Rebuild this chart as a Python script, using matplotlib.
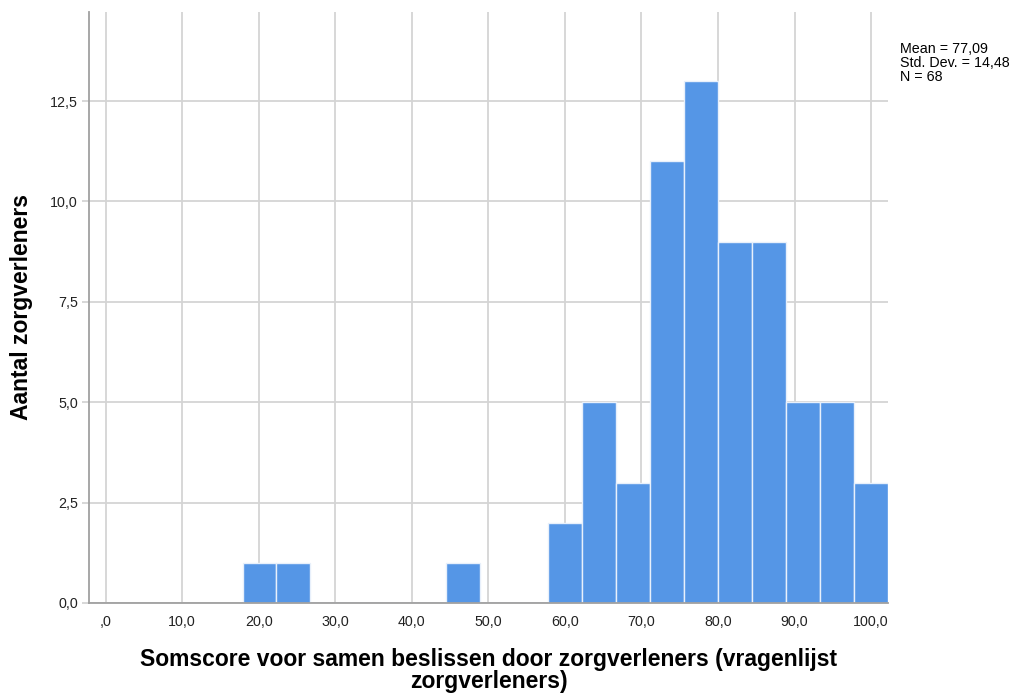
import matplotlib.pyplot as plt
import numpy as np

# histogram: bins start at 17.88, width 4.44
bin_start = 17.88
bin_width = 4.44
counts = [1, 1, 0, 0, 0, 0, 1, 0, 0, 2, 5, 3, 11, 13, 9, 9, 5, 5, 3]
xticks = [0, 10, 20, 30, 40, 50, 60, 70, 80, 90, 100]
xtick_labels = [',0', '10,0', '20,0', '30,0', '40,0', '50,0', '60,0', '70,0', '80,0', '90,0', '100,0']
yticks = [0, 2.5, 5, 7.5, 10, 12.5]
ytick_labels = ['0,0', '2,5', '5,0', '7,5', '10,0', '12,5']
stats_text = 'Mean = 77,09\nStd. Dev. = 14,48\nN = 68'

plt.rcParams['font.family'] = ['Liberation Sans', 'DejaVu Sans']

fig = plt.figure(figsize=(10.19, 6.95), dpi=100)
ax = fig.add_axes([0.0873, 0.1324, 0.7841, 0.8504])

edges = bin_start + bin_width * np.arange(len(counts) + 1)
ax.set_axisbelow(True)
ax.grid(True, color='#d4d4d4', linewidth=1.3)
ax.bar(edges[:-1], counts, width=bin_width, align='edge', color='#5596e6',
       edgecolor='#e8f0fb', linewidth=1.0)

ax.set_xlim(-2.18, 102.2)
ax.set_ylim(0, 14.72)
ax.set_xticks(xticks)
ax.set_xticklabels(xtick_labels, fontsize=10.3, color='#222222')
ax.set_yticks(yticks)
ax.set_yticklabels(ytick_labels, fontsize=10.3, color='#222222')
ax.tick_params(axis='x', length=0, pad=9)
ax.tick_params(axis='y', length=5, color='#d4d4d4', width=1.3, pad=3)

for s in ['top', 'right']:
    ax.spines[s].set_visible(False)
for s in ['left', 'bottom']:
    ax.spines[s].set_color('#a0a0a0')
    ax.spines[s].set_linewidth(1.3)

ax.set_xlabel('Somscore voor samen beslissen door zorgverleners (vragenlijst\nzorgverleners)',
              fontsize=16.5, fontweight='bold', labelpad=13, linespacing=0.97)
ax.set_ylabel('Aantal zorgverleners', fontsize=16.5, fontweight='bold', labelpad=12)

fig.text(0.883, 0.9396, stats_text, fontsize=10.3, va='top', ha='left', linespacing=1.02)

fig.savefig('out.png', dpi=100)
